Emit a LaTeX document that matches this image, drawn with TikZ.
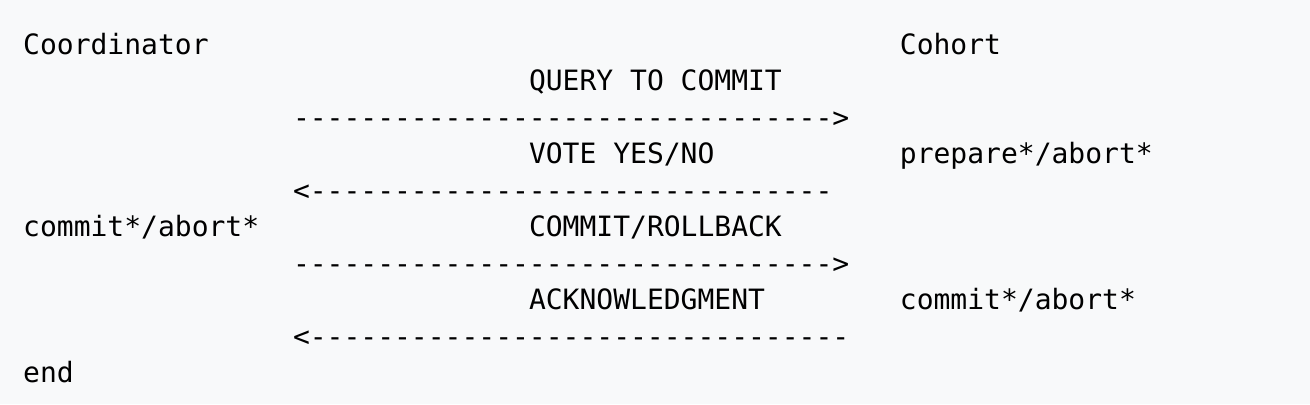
\documentclass[tikz,border=0pt]{standalone}
\usepackage{fontspec}
\newfontfamily\msgfont[Ligatures=TeXOff]{DejaVu Sans Mono}
\definecolor{pagebg}{HTML}{F8F9FA}
\tikzset{
    msg/.style={font=\msgfont\fontsize{14pt}{14pt}\selectfont, anchor=base west, inner sep=0pt, text=black},
}

\begin{document}
\begin{tikzpicture}[x=0.5pt,y=-0.5pt] %Two-phase commit
            \fill[pagebg] (0,0) rectangle (1310,404);
            \useasboundingbox (0,0) rectangle (1310,404);

            \coordinate (L) at (22.8,0);
            \coordinate (M) at (292.6,0);
            \coordinate (T) at (528.6,0);
            \coordinate (R) at (899.5,0);

            \node[msg] (coord) at (L |- 0,54) {Coordinator};
            \node[msg] (cohort) at (R |- 0,54) {Cohort};

            \node[msg] (query) at (T |- 0,90.5) {QUERY TO COMMIT};
            \node[msg] (arrA) at (M |- 0,127) {-------------------------------->};

            \node[msg] (vote) at (T |- 0,163.5) {VOTE YES/NO};
            \node[msg] (prep) at (R |- 0,163.5) {prepare*/abort*};
            \node[msg] (arrB) at (M |- 0,200) {<-------------------------------};

            \node[msg] (decide) at (L |- 0,236.5) {commit*/abort*};
            \node[msg] (rollback) at (T |- 0,236.5) {COMMIT/ROLLBACK};
            \node[msg] (arrC) at (M |- 0,273) {-------------------------------->};

            \node[msg] (ack) at (T |- 0,309.5) {ACKNOWLEDGMENT};
            \node[msg] (done) at (R |- 0,309.5) {commit*/abort*};
            \node[msg] (arrD) at (M |- 0,346) {<--------------------------------};

            \node[msg] (fin) at (L |- 0,382.5) {end};
        \end{tikzpicture}
\end{document}
